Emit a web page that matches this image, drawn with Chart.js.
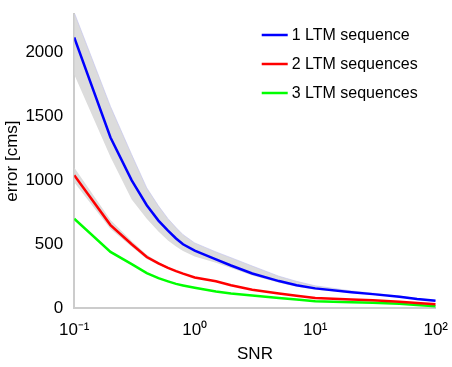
<!DOCTYPE html>
<html>
<head>
<meta charset="utf-8">
<script src="https://cdn.jsdelivr.net/npm/chart.js@4.4.0/dist/chart.umd.min.js"></script>
<style>
  html, body { margin: 0; padding: 0; background: #fff; }
</style>
</head>
<body>
<canvas id="chartErr" width="452" height="367"></canvas>
<script>
// SNR sample points (log x axis)
var snr = [0.1, 0.2, 0.3, 0.4, 0.5, 0.6, 0.7, 0.8, 1, 1.5, 2, 3, 5, 7, 10, 20, 30, 50, 70, 100];

var err1 = [2116, 1335, 1000, 805, 685, 607, 545, 500, 450, 382, 334, 271, 212, 180, 155, 125, 110, 90, 72, 58];
var err2 = [1039, 650, 500, 400, 350, 315, 290, 270, 240, 210, 180, 145, 115, 97, 80, 68, 62, 50, 40, 30];
var err3 = [700, 440, 345, 275, 235, 210, 190, 178, 160, 130, 115, 100, 80, 68, 55, 47, 42, 35, 25, 16];

// spread band round the curves
var err1Hi = [2312, 1577, 1200, 940, 800, 700, 630, 575, 510, 440, 395, 330, 250, 210, 175, 135, 118, 95, 76, 61];
var err1Lo = [1827, 1183, 850, 700, 600, 530, 482, 448, 405, 355, 315, 255, 198, 168, 145, 118, 105, 86, 69, 56];
var err2Hi = [1100, 690, 525, 418, 362, 323, 295, 274, 243, 212, 182, 146, 116, 98, 81, 69, 63, 51, 41, 31];
var err2Lo = [985, 620, 480, 385, 340, 308, 285, 266, 237, 208, 178, 144, 114, 96, 79, 67, 61, 49, 39, 29];

var seriesNames = ['1 LTM sequence', '2 LTM sequences', '3 LTM sequences'];
var xTicks = [0.1, 1, 10, 100];
var xTickLabels = ['10\u207B\u00B9', '10\u2070', '10\u00B9', '10\u00B2'];
var yTicks = [0, 500, 1000, 1500, 2000];

var lineColors = ['#0000ff', '#ff0000', '#00ff00'];
var bandColor = '#dcdcdc';
var fontFam = '"Liberation Sans", Arial, sans-serif';

function pts(ys) {
  return snr.map(function(x, i) { return {x: x, y: ys[i]}; });
}

function lineSet(label, ys, color) {
  return {
    label: label,
    data: pts(ys),
    borderColor: color,
    borderWidth: 2.5,
    pointRadius: 0,
    fill: false,
    order: 0
  };
}

function bandSet(ys, target, edge) {
  return {
    label: '',
    data: pts(ys),
    borderColor: edge || 'rgba(0,0,0,0)',
    borderWidth: edge ? 0.6 : 0,
    backgroundColor: bandColor,
    pointRadius: 0,
    fill: target === undefined ? false : target,
    order: 1
  };
}

// draws the legend inside the plot, top right
var legendBox = {
  id: 'legendBox',
  afterDatasetsDraw: function(chart) {
    var ctx = chart.ctx;
    var area = chart.chartArea;
    ctx.save();
    ctx.font = '16px ' + fontFam;
    ctx.textBaseline = 'middle';
    seriesNames.forEach(function(name, i) {
      var x = area.right - 174;
      var y = area.top + 21 + i * 29;
      ctx.strokeStyle = lineColors[i];
      ctx.lineWidth = 2.5;
      ctx.beginPath();
      ctx.moveTo(x, y);
      ctx.lineTo(x + 26, y);
      ctx.stroke();
      ctx.fillStyle = '#000';
      ctx.fillText(name, x + 30, y + 1);
    });
    ctx.restore();
  }
};

Chart.defaults.font.family = fontFam;
Chart.defaults.font.size = 17;
Chart.defaults.color = '#000';

var ctx = document.getElementById('chartErr').getContext('2d');
var chartErr = new Chart(ctx, {
  type: 'line',
  data: {
    datasets: [
      lineSet(seriesNames[0], err1, lineColors[0]),
      lineSet(seriesNames[1], err2, lineColors[1]),
      lineSet(seriesNames[2], err3, lineColors[2]),
      bandSet(err1Hi, 4, '#c0c0ee'),
      bandSet(err1Lo),
      bandSet(err2Hi, 6),
      bandSet(err2Lo)
    ]
  },
  options: {
    responsive: false,
    animation: false,
    layout: { padding: { left: 0, right: 12, top: 14, bottom: 0 } },
    plugins: {
      legend: { display: false },
      tooltip: { enabled: false }
    },
    scales: {
      x: {
        type: 'logarithmic',
        min: 0.1,
        max: 100,
        afterBuildTicks: function(scale) {
          scale.ticks = xTicks.map(function(v) { return {value: v}; });
        },
        ticks: {
          padding: 4,
          maxRotation: 0,
          autoSkip: false,
          callback: function(value, index) { return xTickLabels[index]; }
        },
        grid: { display: false },
        border: { display: true, color: '#cccccc', width: 2 },
        title: { display: true, text: 'SNR', padding: { top: 0, bottom: 2 } }
      },
      y: {
        min: 0,
        max: 2300,
        afterBuildTicks: function(scale) {
          scale.ticks = yTicks.map(function(v) { return {value: v}; });
        },
        ticks: {
          padding: 3,
          callback: function(value) { return String(value); }
        },
        grid: { display: false },
        border: { display: true, color: '#cccccc', width: 2 },
        title: { display: true, text: 'error [cms]', padding: { top: 2, bottom: 0 } }
      }
    }
  },
  plugins: [legendBox]
});
</script>
</body>
</html>
